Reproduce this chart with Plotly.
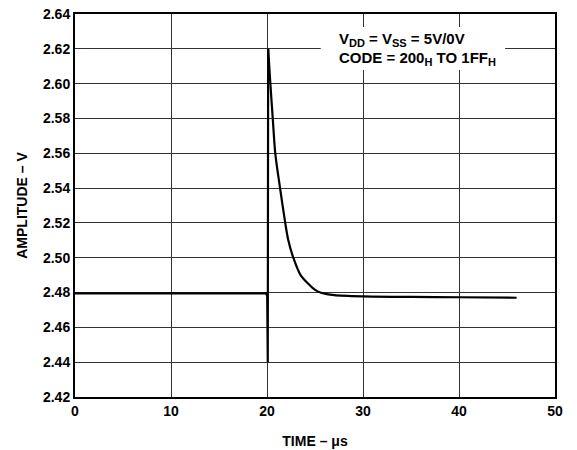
import plotly.graph_objects as go

# Settling waveform after the 200H -> 1FFH code transition
time_us = [0, 19.9, 20.02, 20.08, 20.12, 20.35, 20.6, 20.86, 21.36,
           21.9, 22.2, 22.74, 23.5, 24.3, 25.0, 25.7, 27.0, 30.0, 35.0, 40.0, 46.0]
amplitude_v = [2.4795, 2.4795, 2.478, 2.44, 2.62, 2.60, 2.58, 2.56, 2.54,
               2.52, 2.5105, 2.50, 2.49, 2.485, 2.4815, 2.4797, 2.4785, 2.4778,
               2.4775, 2.4773, 2.4770]

x_ticks = [0, 10, 20, 30, 40, 50]
y_ticks = [2.42, 2.44, 2.46, 2.48, 2.50, 2.52, 2.54, 2.56, 2.58, 2.60, 2.62, 2.64]

FONT = "Liberation Sans"
tick_font = dict(family=FONT, size=14, color="black", weight="bold")
note_font = dict(family=FONT, size=15, color="black", weight="bold")

# Split at the spike peak: sharp edges as straight segments, the decay smoothed
peak = amplitude_v.index(max(amplitude_v))

fig = go.Figure()
fig.add_trace(go.Scatter(
    x=time_us[:peak + 1], y=amplitude_v[:peak + 1], mode="lines",
    line=dict(color="black", width=2.2),
    showlegend=False, hoverinfo="skip",
))
fig.add_trace(go.Scatter(
    x=time_us[peak:], y=amplitude_v[peak:], mode="lines",
    line=dict(color="black", width=2.2, shape="spline", smoothing=0.8),
    showlegend=False, hoverinfo="skip",
))

fig.update_layout(
    width=577, height=450,
    margin=dict(l=75, r=22, t=14, b=53),
    paper_bgcolor="white", plot_bgcolor="white",
    font=dict(family=FONT, color="black"),
    xaxis=dict(
        range=[0, 50], tickvals=x_ticks, ticktext=[str(v) for v in x_ticks],
        showgrid=True, gridcolor="#333333", gridwidth=1.3,
        showline=True, mirror=True, linecolor="black", linewidth=2,
        ticks="", tickfont=tick_font, zeroline=False, ticklabelstandoff=0,
        automargin=False,
        title=dict(text="TIME – μs", font=tick_font, standoff=18),
    ),
    yaxis=dict(
        range=[2.42, 2.64], tickvals=y_ticks,
        ticktext=[f"{v:.2f}" for v in y_ticks],
        showgrid=True, gridcolor="#333333", gridwidth=1.3,
        showline=True, mirror=True, linecolor="black", linewidth=2,
        ticks="", tickfont=tick_font, zeroline=False, automargin=False,
        title=dict(text="AMPLITUDE – V", font=tick_font, standoff=12),
    ),
)

# White panel behind the test-condition note
fig.add_shape(
    type="rect", xref="x", yref="y", layer="above",
    x0=25.6, x1=44.8, y0=2.6078, y1=2.6325,
    fillcolor="white", line=dict(width=0),
)

SUB = '<sub><span style="font-size:11px">{}</span></sub>'
fig.add_annotation(
    x=27.3, y=2.6251, xref="x", yref="y", xanchor="left", yanchor="middle",
    showarrow=False, font=note_font,
    text=f"V{SUB.format('DD')} = V{SUB.format('SS')} = 5V/0V",
)
fig.add_annotation(
    x=27.3, y=2.6142, xref="x", yref="y", xanchor="left", yanchor="middle",
    showarrow=False, font=note_font,
    text=f"CODE = 200{SUB.format('H')} TO 1FF{SUB.format('H')}",
)

fig.write_html("out.html")
